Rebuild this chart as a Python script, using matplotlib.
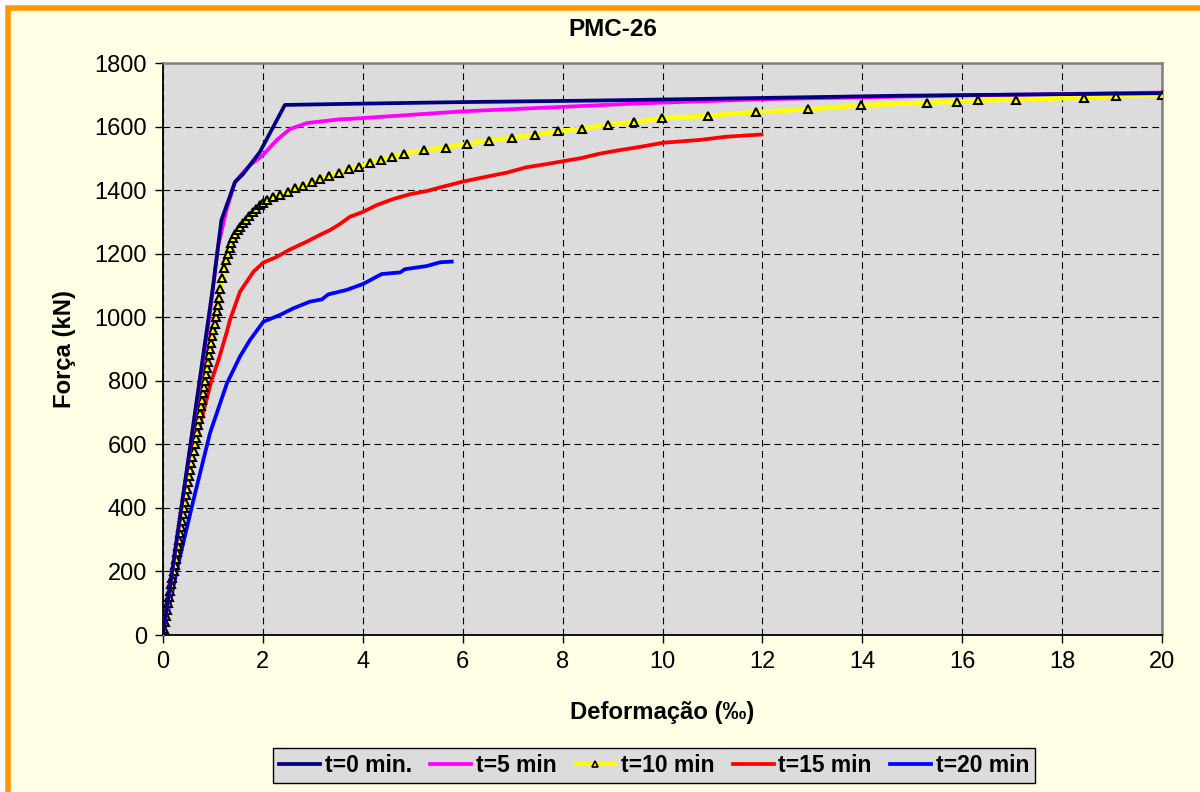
import matplotlib
matplotlib.use("Agg")
import matplotlib.pyplot as plt
from matplotlib.patches import Rectangle
from matplotlib.lines import Line2D

plt.rcParams['font.family'] = ['Liberation Sans', 'DejaVu Sans']

# ---- data: force (kN) vs deformation (per mille) ----
def_t0 = [0.0, 0.5, 1.0, 1.17, 1.44, 1.6, 1.94, 2.44, 3.54, 6.0, 8.75, 12.0, 14.75, 20.0]
frc_t0 = [0, 545, 1095, 1306, 1425, 1450, 1520, 1668, 1671, 1677, 1682, 1690, 1697, 1705]

def_t5 = [0.0, 0.5, 0.94, 1.1, 1.27, 1.44, 1.6, 1.74, 2.0, 2.28, 2.54, 2.88, 3.54, 3.74,
          6.01, 8.01, 9.55, 12.0, 14.0, 16.0, 20.0]
frc_t5 = [0, 540, 1013, 1221, 1337, 1425, 1455, 1478, 1510, 1558, 1592, 1611, 1623, 1624,
          1648, 1662, 1673, 1686, 1692, 1698, 1707]

def_t10 = [0.0, 0.021, 0.042, 0.063, 0.084, 0.105, 0.126, 0.147, 0.168, 0.189,
           0.211, 0.232, 0.253, 0.274, 0.295, 0.316, 0.337, 0.358, 0.379, 0.400,
           0.421, 0.442, 0.463, 0.484, 0.505, 0.526, 0.547, 0.568, 0.589, 0.611,
           0.632, 0.653, 0.674, 0.695, 0.716, 0.737, 0.758, 0.779, 0.800, 0.821,
           0.842, 0.863, 0.884, 0.905, 0.926, 0.947, 0.968, 0.989, 1.011, 1.032,
           1.053, 1.074, 1.095, 1.12, 1.15, 1.19, 1.23, 1.27, 1.31, 1.34,
           1.37, 1.41, 1.45, 1.50, 1.55, 1.61, 1.67, 1.73, 1.80, 1.87,
           1.94, 2.01, 2.08, 2.20, 2.34, 2.50, 2.64, 2.80, 2.98, 3.14,
           3.33, 3.52, 3.72, 3.92, 4.14, 4.36, 4.58, 4.83, 5.23, 5.66,
           6.09, 6.53, 6.99, 7.45, 7.90, 8.39, 8.90, 9.43, 9.99, 10.92,
           11.87, 12.91, 13.97, 15.30, 15.90, 16.32, 17.08, 18.43, 19.08, 20.0]
frc_t10 = [0, 20, 40, 60, 80, 100, 120, 140, 160, 180,
           200, 220, 240, 260, 280, 300, 320, 340, 360, 380,
           400, 420, 440, 460, 480, 500, 520, 540, 560, 580,
           600, 620, 640, 660, 680, 700, 720, 740, 760, 780,
           800, 820, 840, 860, 880, 900, 920, 940, 960, 980,
           1000, 1020, 1040, 1062, 1090, 1125, 1155, 1180, 1200, 1218,
           1233, 1248, 1262, 1274, 1285, 1296, 1306, 1317, 1330, 1342,
           1352, 1361, 1369, 1378, 1385, 1395, 1406, 1413, 1426, 1434,
           1444, 1455, 1465, 1474, 1486, 1495, 1505, 1515, 1526, 1534,
           1546, 1556, 1565, 1574, 1586, 1593, 1606, 1614, 1626, 1634,
           1646, 1654, 1667, 1675, 1678, 1682, 1685, 1691, 1695, 1700]

def_t15 = [0.0, 0.3, 0.61, 0.97, 1.11, 1.28, 1.34, 1.54, 1.81, 2.01, 2.28, 2.54, 2.88,
           3.14, 3.34, 3.54, 3.74, 4.01, 4.28, 4.61, 4.94, 5.28, 5.61, 6.01, 6.41,
           6.88, 7.28, 7.68, 8.01, 8.35, 8.75, 9.15, 9.55, 10.01, 10.75, 11.28, 11.98]
frc_t15 = [0, 290, 582, 800, 865, 955, 991, 1080, 1143, 1172, 1190, 1213, 1238,
           1259, 1274, 1293, 1316, 1332, 1353, 1372, 1387, 1397, 1411, 1427, 1440,
           1455, 1472, 1482, 1491, 1500, 1515, 1526, 1536, 1549, 1558, 1568, 1575]

def_t20 = [0.0, 0.3, 0.61, 0.94, 1.28, 1.54, 1.74, 2.01, 2.34, 2.61, 2.94, 3.18, 3.31,
           3.68, 4.01, 4.38, 4.75, 4.84, 5.28, 5.55, 5.78]
frc_t20 = [0, 220, 425, 635, 792, 876, 928, 986, 1007, 1028, 1049, 1056, 1072,
           1086, 1105, 1136, 1141, 1151, 1161, 1173, 1175]

labels = ["t=0 min.", "t=5 min", "t=10 min", "t=15 min", "t=20 min"]
x_ticks = [0, 2, 4, 6, 8, 10, 12, 14, 16, 18, 20]
y_ticks = [0, 200, 400, 600, 800, 1000, 1200, 1400, 1600, 1800]

# ---- figure ----
W, H = 1200, 792
fig = plt.figure(figsize=(W / 100, H / 100), dpi=100, facecolor='white')

# cream chart area with orange frame (left and top visible)
fig.patches.append(Rectangle((7.5 / W, -0.05), 1.1, 1 - 7.5 / H + 0.05,
                             transform=fig.transFigure, facecolor='#FFFFE5',
                             edgecolor='#FF9900', linewidth=4, zorder=-10))

ax = fig.add_axes([163 / W, 1 - 635 / H, (1162 - 163) / W, (635 - 63) / H])
ax.set_zorder(2)
ax.set_facecolor('#DCDCDC')

lw = 2.7
ax.plot(def_t0, frc_t0, color='#000080', lw=lw, zorder=6, solid_joinstyle='round')
ax.plot(def_t5, frc_t5, color='#FF00FF', lw=lw, zorder=5, solid_joinstyle='round')
ax.plot(def_t10, frc_t10, color='#FFFF00', lw=3.2, zorder=4, marker='^', markersize=5.5,
        markerfacecolor='#FFFF00', markeredgecolor='black', markeredgewidth=1.5)
ax.plot(def_t15, frc_t15, color='#FF0000', lw=lw, zorder=3, solid_joinstyle='round')
ax.plot(def_t20, frc_t20, color='#0000FF', lw=lw, zorder=3, solid_joinstyle='round')

ax.set_xlim(0, 20)
ax.set_ylim(0, 1800)
ax.set_xticks(x_ticks)
ax.set_yticks(y_ticks)
ax.set_xticklabels([str(v) for v in x_ticks])
ax.set_yticklabels([str(v) for v in y_ticks])
ax.grid(True, color='black', linestyle=(0, (6, 4)), linewidth=0.8, zorder=1)
ax.set_axisbelow(True)
ax.tick_params(direction='out', length=5.5, width=1, labelsize=17, pad=6,
               colors='black')

for s in ['left', 'bottom']:
    ax.spines[s].set_color('black')
    ax.spines[s].set_linewidth(1.3)
for s in ['top', 'right']:
    ax.spines[s].set_color('#808080')
    ax.spines[s].set_linewidth(1.8)

fig.text(613 / W, 1 - 30 / H, "PMC-26", ha='center', va='center',
         fontsize=17.5, fontweight='bold')
fig.text(662 / W, 1 - 713 / H, "Deformação (‰)", ha='center', va='center',
         fontsize=17.2, fontweight='bold')
fig.text(65 / W, 1 - 349 / H, "Força (kN)", ha='center', va='center',
         rotation=90, fontsize=17.2, fontweight='bold')

handles = [
    Line2D([], [], color='#000080', lw=lw),
    Line2D([], [], color='#FF00FF', lw=lw),
    Line2D([], [], color='#FFFF00', lw=lw, marker='^', markersize=4,
           markerfacecolor='#FFFF00', markeredgecolor='black', markeredgewidth=1.2),
    Line2D([], [], color='#FF0000', lw=lw),
    Line2D([], [], color='#0000FF', lw=lw),
]
leg = fig.legend(handles, labels, loc='center', ncol=5,
                 bbox_to_anchor=(654 / W, 1 - 765.5 / H),
                 prop={'weight': 'bold', 'size': 16.5},
                 frameon=True, fancybox=False, edgecolor='black',
                 facecolor='#DCDCDC', framealpha=1, handlelength=1.8,
                 handletextpad=0.2, columnspacing=0.8, borderpad=0.25,
                 borderaxespad=0)
leg.get_frame().set_linewidth(1.0)
for t in leg.get_texts():
    t.set_color('black')

fig.savefig('out.png', dpi=100, facecolor=fig.get_facecolor())
